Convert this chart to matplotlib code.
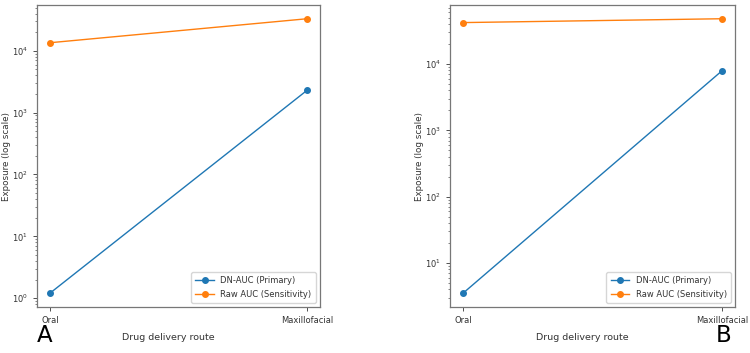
import matplotlib
matplotlib.use("Agg")
import matplotlib.pyplot as plt

routes = ["Oral", "Maxillofacial"]
dn_auc_A = [1.2, 2300]
raw_auc_A = [13500, 33000]
dn_auc_B = [3.5, 7900]
raw_auc_B = [42000, 48000]
series_labels = ["DN-AUC (Primary)", "Raw AUC (Sensitivity)"]
panel_labels = ["A", "B"]
xlabel = "Drug delivery route"
ylabel = "Exposure (log scale)"

fig = plt.figure(figsize=(7.5, 3.53), dpi=100)
axA = fig.add_axes([0.0493, 0.1303, 0.3773, 0.8555])
axB = fig.add_axes([0.600, 0.1303, 0.3800, 0.8555])

spine_col = "#777777"
for ax, dn, raw, ylx in [(axA, dn_auc_A, raw_auc_A, -0.092), (axB, dn_auc_B, raw_auc_B, -0.092)]:
    ax.plot(routes, dn, marker="o", color="#1f77b4", lw=1.0, ms=4, label=series_labels[0])
    ax.plot(routes, raw, marker="o", color="#ff7f0e", lw=1.0, ms=4, label=series_labels[1])
    ax.set_yscale("log")
    ax.tick_params(labelsize=6, colors="#333333", width=0.6, length=3)
    ax.tick_params(which="minor", width=0.5, length=1.8, colors="#555555")
    for s in ax.spines.values():
        s.set_color(spine_col)
        s.set_linewidth(0.9)
    ax.set_ylabel(ylabel, fontsize=6.3, color="#333333")
    ax.yaxis.set_label_coords(ylx, 0.5)
    leg = ax.legend(loc="lower right", fontsize=6.0, frameon=True, handlelength=2.2,
                    borderpad=0.5, labelspacing=0.55)
    for t in leg.get_texts():
        t.set_color("#333333")

fig.text(0.225, 0.043, xlabel, fontsize=6.8, ha="center", va="center", color="#333333")
fig.text(0.776, 0.043, xlabel, fontsize=6.8, ha="center", va="center", color="#333333")
fig.text(0.059, 0.031, panel_labels[0], fontsize=16.5, ha="center", va="baseline", color="black")
fig.text(0.965, 0.031, panel_labels[1], fontsize=16.5, ha="center", va="baseline", color="black")

fig.savefig("out.png", dpi=100)
